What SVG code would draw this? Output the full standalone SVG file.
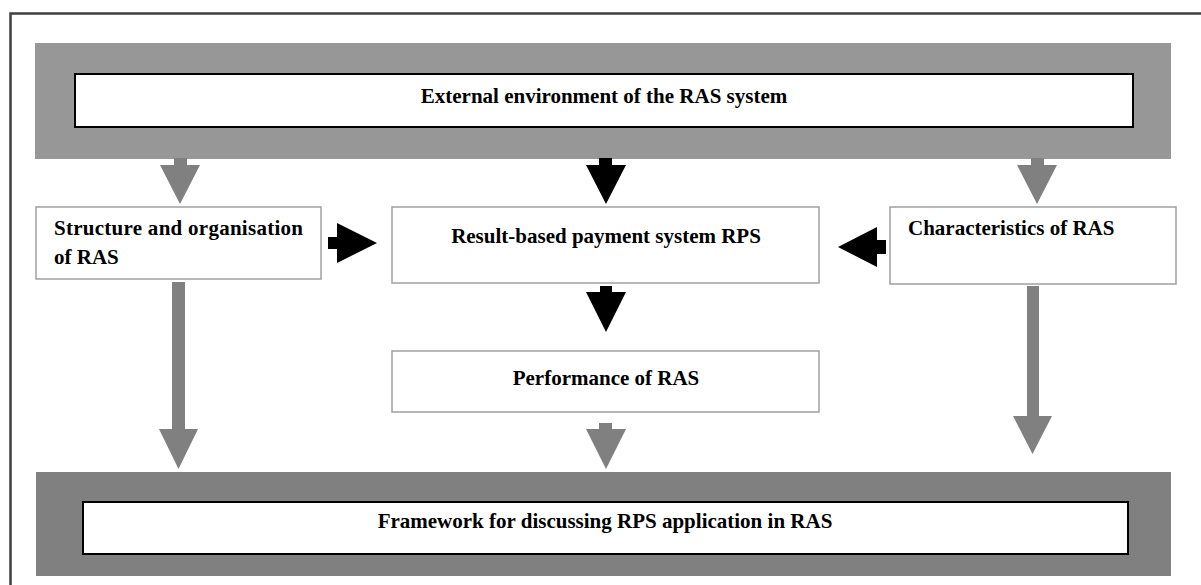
<svg xmlns="http://www.w3.org/2000/svg" width="1201" height="585" viewBox="0 0 1201 585">
<style>
.t{font-family:"Liberation Serif","Times New Roman",serif;font-weight:bold;font-size:21px;fill:#000}
.box{fill:#fff;stroke:#a0a0a0;stroke-width:1.5}
.inner{fill:#fff;stroke:#000;stroke-width:2}
.ga{fill:#808080}
.ba{fill:#000}
</style>
<rect width="1201" height="585" fill="#fff"/>
<path d="M10.5,585 V13.5 H1201" fill="none" stroke="#404040" stroke-width="2.5"/>

<g id="external">
<rect x="35" y="43" width="1136" height="116" fill="#979797"/>
<rect class="inner" x="75" y="74" width="1058" height="53"/>
<text class="t" x="604" y="103" text-anchor="middle">External environment of the RAS system</text>
</g>

<g id="structure">
<rect class="box" x="36" y="207" width="285" height="72"/>
<text class="t" x="54" y="235" textLength="249" lengthAdjust="spacing">Structure and organisation</text>
<text class="t" x="54" y="264">of RAS</text>
</g>

<g id="rps">
<rect class="box" x="392" y="207" width="427" height="76"/>
<text class="t" x="606" y="243" text-anchor="middle">Result-based payment system RPS</text>
</g>

<g id="characteristics">
<rect class="box" x="890" y="207" width="286" height="77"/>
<text class="t" x="908" y="235">Characteristics of RAS</text>
</g>

<g id="performance">
<rect class="box" x="392" y="351" width="427" height="61"/>
<text class="t" x="606" y="385" text-anchor="middle">Performance of RAS</text>
</g>

<g id="framework">
<rect x="36" y="472" width="1135" height="104" fill="#808080"/>
<rect class="inner" x="83" y="502" width="1045" height="52"/>
<text class="t" x="605" y="528" text-anchor="middle">Framework for discussing RPS application in RAS</text>
</g>

<g id="connectors">
<polygon class="ga" points="174,158 187,158 187,165 200,165 180,204 160,165 174,165"/>
<polygon class="ba" points="599,158 612,158 612,165 626,165 606,204 586,165 599,165"/>
<polygon class="ga" points="1031,158 1044,158 1044,165 1057,165 1037,204 1017,165 1031,165"/>
<polygon class="ba" points="328,237 337,237 337,223 377,243 337,263 337,249 328,249"/>
<polygon class="ba" points="886,240 877,240 877,227 838,247 877,267 877,254 886,254"/>
<polygon class="ba" points="600,286 612,286 612,292 626,292 606,332 586,292 600,292"/>
<polygon class="ga" points="172,282 185,282 185,429 198,429 178.5,469 159,429 172,429"/>
<polygon class="ga" points="599,423 612,423 612,429 626,429 606,469 586,429 599,429"/>
<polygon class="ga" points="1027,286 1039,286 1039,416 1052,416 1032.5,454 1013,416 1027,416"/>
</g>
</svg>
